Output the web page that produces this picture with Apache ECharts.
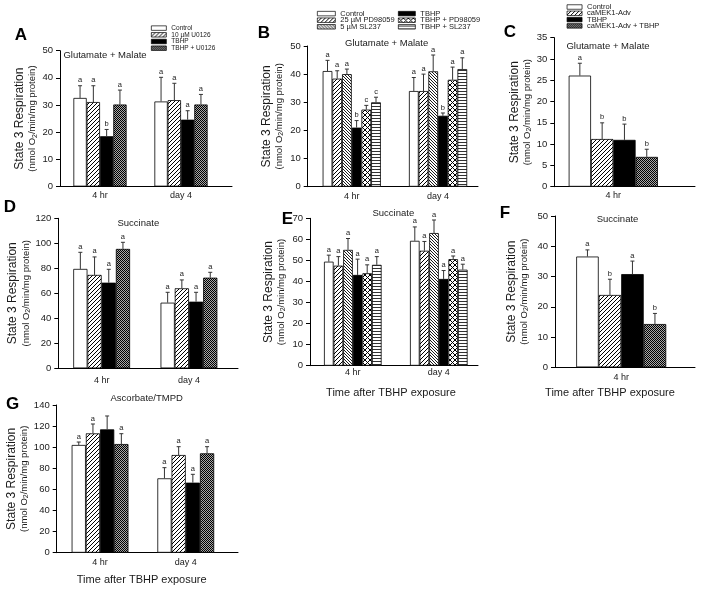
<!DOCTYPE html>
<html><head><meta charset="utf-8">
<script src="https://cdn.jsdelivr.net/npm/echarts@6/dist/echarts.min.js"></script>
<style>html,body{margin:0;padding:0;background:#fff}#c{width:707px;height:589px}</style>
</head><body><div id="c"></div>
<script>
// ---------------- DATA ----------------
const A_cats = ['4 hr', 'day 4'];
const A_names = ['Control', '10 µM U0126', 'TBHP', 'TBHP + U0126'];
const A_mean = [[32.6, 31.3], [31.1, 31.8], [18.5, 24.6], [30.2, 30.2]];
const A_err  = [[4.5, 8.9], [6.0, 6.2], [2.5, 3.3], [5.3, 3.7]];
const A_sig  = [['a', 'a'], ['a', 'a'], ['b', 'a'], ['a', 'a']];
const A_ticks = [0, 10, 20, 30, 40, 50];

const B_cats = ['4 hr', 'day 4'];
const B_names = ['Control', '25 µM PD98059', '5 µM SL237', 'TBHP', 'TBHP + PD98059', 'TBHP + SL237'];
const B_mean = [[41.1, 34.0], [38.4, 34.0], [40.0, 41.0], [21.0, 25.2], [27.4, 38.0], [30.0, 41.8]];
const B_err  = [[3.8, 4.8], [2.8, 6.0], [1.8, 5.8], [2.5, 1.0], [1.5, 4.5], [1.8, 4.0]];
const B_sig  = [['a', 'a'], ['a', 'a'], ['a', 'a'], ['b', 'b'], ['c', 'a'], ['c', 'a']];
const B_ticks = [0, 10, 20, 30, 40, 50];

const C_cats = ['4 hr'];
const C_names = ['Control', 'caMEK1-Adv', 'TBHP', 'caMEK1-Adv + TBHP'];
const C_mean = [[26.1], [11.2], [11.0], [7.0]];
const C_err  = [[2.9], [3.8], [3.7], [1.8]];
const C_sig  = [['a'], ['b'], ['b'], ['b']];
const C_ticks = [0, 5, 10, 15, 20, 25, 30, 35];

const D_cats = ['4 hr', 'day 4'];
const D_names = ['Control', '10 µM U0126', 'TBHP', 'TBHP + U0126'];
const D_mean = [[79.5, 52.5], [74.7, 64.0], [68.5, 53.3], [95.5, 72.5]];
const D_err  = [[13.3, 8.3], [14.4, 6.7], [10.7, 7.5], [5.3, 4.3]];
const D_sig  = [['a', 'a'], ['a', 'a'], ['a', 'a'], ['a', 'a']];
const D_ticks = [0, 20, 40, 60, 80, 100, 120];

const E_cats = ['4 hr', 'day 4'];
const E_names = ['Control', '25 µM PD98059', '5 µM SL237', 'TBHP', 'TBHP + PD98059', 'TBHP + SL237'];
const E_mean = [[49.4, 59.3], [47.5, 54.6], [55.0, 63.0], [43.1, 41.2], [43.9, 50.6], [47.9, 45.6]];
const E_err  = [[3.1, 6.6], [4.3, 4.4], [5.4, 6.2], [7.5, 4.0], [4.0, 1.5], [3.9, 2.6]];
const E_sig  = [['a', 'a'], ['a', 'a'], ['a', 'a'], ['a', 'a'], ['a', 'a'], ['a', 'a']];
const E_ticks = [0, 10, 20, 30, 40, 50, 60, 70];

const F_cats = ['4 hr'];
const F_names = ['Control', 'caMEK1-Adv', 'TBHP', 'caMEK1-Adv + TBHP'];
const F_mean = [[36.6], [23.9], [30.8], [14.3]];
const F_err  = [[2.2], [5.2], [4.3], [3.5]];
const F_sig  = [['a'], ['b'], ['a'], ['b']];
const F_ticks = [0, 10, 20, 30, 40, 50];

const G_cats = ['4 hr', 'day 4'];
const G_names = ['Control', '10 µM U0126', 'TBHP', 'TBHP + U0126'];
const G_mean = [[102.1, 70.5], [113.1, 92.6], [116.9, 66.4], [103.0, 94.2]];
const G_err  = [[2.8, 10.1], [8.9, 7.9], [12.7, 7.9], [9.8, 6.3]];
const G_sig  = [['a', 'a'], ['a', 'a'], ['', 'a'], ['a', 'a']];
const G_ticks = [0, 20, 40, 60, 80, 100, 120, 140];

const substrates = ['Glutamate + Malate', 'Glutamate + Malate', 'Glutamate + Malate', 'Succinate', 'Succinate', 'Succinate', 'Ascorbate/TMPD'];
const panelLetters = ['A', 'B', 'C', 'D', 'E', 'F', 'G'];
const xTitle = 'Time after TBHP exposure';

// ---------------- STYLE / LAYOUT ----------------
const FONT = "'Liberation Sans', Arial, sans-serif";
const INK = '#1a1a1a';

function tile(w, h, draw) {
  const c = document.createElement('canvas');
  c.width = w; c.height = h;
  const g = c.getContext('2d');
  g.fillStyle = '#fff'; g.fillRect(0, 0, w, h);
  draw(g);
  return { image: c, repeat: 'repeat' };
}
const PAT = {
  white: '#ffffff',
  black: '#000000',
  fwd: tile(4, 4, g => { g.strokeStyle = '#000'; g.lineWidth = 1; g.beginPath();
    g.moveTo(0, 4); g.lineTo(4, 0); g.moveTo(-1, 1); g.lineTo(1, -1); g.moveTo(3, 5); g.lineTo(5, 3); g.stroke(); }),
  bwd: tile(3, 3, g => { g.strokeStyle = '#000'; g.lineWidth = 0.9; g.beginPath();
    g.moveTo(0, 0); g.lineTo(3, 3); g.moveTo(-1, 2); g.lineTo(1, 4); g.moveTo(2, -1); g.lineTo(4, 1); g.stroke(); }),
  cross: tile(5, 5, g => { g.strokeStyle = '#000'; g.lineWidth = 1; g.beginPath();
    g.moveTo(0, 0); g.lineTo(5, 5); g.moveTo(0, 5); g.lineTo(5, 0); g.stroke(); }),
  checker: tile(2, 2, g => { g.fillStyle = '#a8a8a8'; g.fillRect(0, 0, 2, 2); g.fillStyle = '#000';
    g.fillRect(0, 0, 1, 1); g.fillRect(1, 1, 1, 1); }),
  horiz: tile(4, 3, g => { g.fillStyle = '#333'; g.fillRect(0, 1, 4, 1); })
};
const patternOf = {
  'Control': 'white', '10 µM U0126': 'fwd', '25 µM PD98059': 'fwd', 'caMEK1-Adv': 'fwd',
  '5 µM SL237': 'bwd', 'TBHP': 'black', 'TBHP + U0126': 'checker', 'caMEK1-Adv + TBHP': 'checker',
  'TBHP + PD98059': 'cross', 'TBHP + SL237': 'horiz'
};

const panels = [
  { cats: A_cats, names: A_names, mean: A_mean, err: A_err, sig: A_sig, ticks: A_ticks,
    L: { yx: 60, top: 50.7, zero: 186.5, barL: 59.5, barR: 221.5, lineR: 232, bw: 13.3, gap: 21.7, lblM: 4.5 } },
  { cats: B_cats, names: B_names, mean: B_mean, err: B_err, sig: B_sig, ticks: B_ticks,
    L: { yx: 307.7, top: 46, zero: 186.7, barL: 308.6, barR: 481.2, lineR: 478, bw: 9.7, gap: 22.7, lblM: 5.3 } },
  { cats: C_cats, names: C_names, mean: C_mean, err: C_err, sig: C_sig, ticks: C_ticks,
    L: { yx: 554.3, top: 37.7, zero: 186.7, barL: 554.3, barR: 672.3, lineR: 695, bw: 22.3, gap: 21.3, lblM: 4.3 } },
  { cats: D_cats, names: D_names, mean: D_mean, err: D_err, sig: D_sig, ticks: D_ticks,
    L: { yx: 58.3, top: 218.3, zero: 368.3, barL: 58, barR: 232.6, lineR: 238, bw: 14.2, gap: 23.3, lblM: 7.7 } },
  { cats: E_cats, names: E_names, mean: E_mean, err: E_err, sig: E_sig, ticks: E_ticks,
    L: { yx: 310, top: 218.3, zero: 365.7, barL: 309.8, barR: 481.8, lineR: 478, bw: 9.6, gap: 23.3, lblM: 2 } },
  { cats: F_cats, names: F_names, mean: F_mean, err: F_err, sig: F_sig, ticks: F_ticks,
    L: { yx: 555, top: 216, zero: 367.3, barL: 555, barR: 687.4, lineR: 695, bw: 22.5, gap: 25, lblM: 5.7 } },
  { cats: G_cats, names: G_names, mean: G_mean, err: G_err, sig: G_sig, ticks: G_ticks,
    L: { yx: 56.7, top: 405, zero: 552.7, barL: 57.2, barR: 228.6, lineR: 238, bw: 14.2, gap: 23.4, lblM: 5.6 } }
];

const letterPos = [[21, 35], [264, 33], [510, 32.5], [10, 207], [287.5, 219], [505, 213], [12.5, 404]];
const subPos = [[105, 55], [386.7, 43.3], [608, 46.7], [138.3, 223.3], [393.3, 213.3], [617.5, 219], [146.7, 398.3]];
const xTitlePos = [[391, 393], [610, 393], [141.7, 580]];

const yName = '{t|State 3 Respiration}\n{n|(nmol O}{s|2}{n|/min/mg protein)}';
const yRich = {
  t: { fontSize: 12, lineHeight: 15, fontFamily: FONT, color: INK },
  n: { fontSize: 9.5, lineHeight: 11, fontFamily: FONT, color: INK },
  s: { fontSize: 7, lineHeight: 7, fontFamily: FONT, color: INK, verticalAlign: 'bottom' }
};

const grid = [], xAxis = [], yAxis = [], series = [];
panels.forEach((p, pi) => {
  const L = p.L;
  const ymin = p.ticks[0], ymax = p.ticks[p.ticks.length - 1], step = p.ticks[1] - p.ticks[0];
  const h = L.zero - L.top;
  grid.push({ left: L.barL, top: L.top, width: L.barR - L.barL, height: h, outerBoundsMode: 'none' });
  grid.push({ left: L.yx, top: L.top, width: L.lineR - L.yx, height: h, outerBoundsMode: 'none' });
  const gb = 2 * pi, gl = 2 * pi + 1;
  xAxis.push({ gridIndex: gb, type: 'category', data: p.cats, boundaryGap: true,
    axisLine: { show: false }, axisTick: { show: false }, splitLine: { show: false },
    axisLabel: { margin: L.lblM, fontSize: 9, color: INK, fontFamily: FONT } });
  xAxis.push({ gridIndex: gl, type: 'value', min: 0, max: 1,
    axisLine: { show: true, lineStyle: { color: '#000', width: 1 } }, axisTick: { show: false },
    axisLabel: { show: false }, splitLine: { show: false } });
  yAxis.push({ gridIndex: gb, type: 'value', min: ymin, max: ymax, interval: step, show: false, splitLine: { show: false } });
  yAxis.push({ gridIndex: gl, type: 'value', min: ymin, max: ymax, interval: step,
    axisLine: { show: true, lineStyle: { color: '#000', width: 1 } },
    axisTick: { show: true, length: 4, lineStyle: { color: '#000' } },
    axisLabel: { margin: 7, fontSize: 9.5, color: INK, fontFamily: FONT },
    splitLine: { show: false },
    name: yName, nameLocation: 'middle', nameRotate: 90, nameGap: L.gap,
    nameTextStyle: { rich: yRich } });
  p.names.forEach((nm, s) => {
    series.push({ type: 'bar', name: nm, xAxisIndex: gb, yAxisIndex: gb, data: p.mean[s],
      barWidth: L.bw, barGap: '0%', animation: false,
      itemStyle: { color: PAT[patternOf[nm]], borderColor: '#000', borderWidth: 0.8 } });
  });
  const edata = [];
  p.names.forEach((nm, s) => p.cats.forEach((c, ci) => {
    edata.push([ci, p.mean[s][ci], p.mean[s][ci] + p.err[s][ci], s]);
  }));
  const n = p.names.length;
  series.push({ type: 'custom', xAxisIndex: gb, yAxisIndex: gb, z: 10, silent: true, animation: false,
    data: edata,
    renderItem: (params, api) => {
      const ci = api.value(0), m = api.value(1), t = api.value(2), s = api.value(3);
      const pm = api.coord([ci, m]), pt = api.coord([ci, t]);
      const x = pm[0] + (s - (n - 1) / 2) * L.bw;
      const letter = p.sig[s][ci];
      return { type: 'group', children: [
        { type: 'line', shape: { x1: x, y1: pm[1], x2: x, y2: pt[1] }, style: { stroke: '#333', lineWidth: 1 } },
        { type: 'line', shape: { x1: x - 2, y1: pt[1], x2: x + 2, y2: pt[1] }, style: { stroke: '#333', lineWidth: 1 } },
        { type: 'text', x: x, y: pt[1] - 1.5, style: { text: letter, fill: INK, fontSize: 7.5, fontFamily: FONT, align: 'center', verticalAlign: 'bottom' } }
      ] };
    } });
});

const legendBase = { orient: 'vertical', icon: 'rect', selectedMode: false, padding: 0,
  itemStyle: { borderColor: '#000', borderWidth: 0.7 } };
const legend = [
  Object.assign({}, legendBase, { left: 151, top: 24.6, itemWidth: 15, itemHeight: 4.5, itemGap: -0.3,
    data: A_names, textStyle: { fontSize: 6.5, lineHeight: 5, color: INK, fontFamily: FONT } }),
  Object.assign({}, legendBase, { left: 317, top: 9.6, itemWidth: 18, itemHeight: 4.5, itemGap: -1.4,
    data: B_names.slice(0, 3), textStyle: { fontSize: 7.5, lineHeight: 5, color: INK, fontFamily: FONT } }),
  Object.assign({}, legendBase, { left: 398, top: 9.6, itemWidth: 17, itemHeight: 4.5, itemGap: -1.4,
    data: B_names.slice(3), textStyle: { fontSize: 7.5, lineHeight: 5, color: INK, fontFamily: FONT } }),
  Object.assign({}, legendBase, { left: 566.7, top: 3, itemWidth: 15, itemHeight: 4.5, itemGap: -1.7,
    data: C_names, textStyle: { fontSize: 7.5, lineHeight: 5, color: INK, fontFamily: FONT } })
];

const graphic = [];
panelLetters.forEach((t, i) => graphic.push({ type: 'text', x: letterPos[i][0], y: letterPos[i][1],
  style: { text: t, fontSize: 17, fontWeight: 'bold', fontFamily: FONT, fill: '#000', align: 'center', verticalAlign: 'middle' } }));
substrates.forEach((t, i) => graphic.push({ type: 'text', x: subPos[i][0], y: subPos[i][1],
  style: { text: t, fontSize: 9.5, fontFamily: FONT, fill: INK, align: 'center', verticalAlign: 'middle' } }));
xTitlePos.forEach(pt => graphic.push({ type: 'text', x: pt[0], y: pt[1],
  style: { text: xTitle, fontSize: 11, fontFamily: FONT, fill: INK, align: 'center', verticalAlign: 'middle' } }));

const chart = echarts.init(document.getElementById('c'), null, { renderer: 'canvas' });
chart.setOption({ backgroundColor: '#fff', animation: false, grid, xAxis, yAxis, series, legend, graphic,
  textStyle: { fontFamily: FONT } });
</script></body></html>
